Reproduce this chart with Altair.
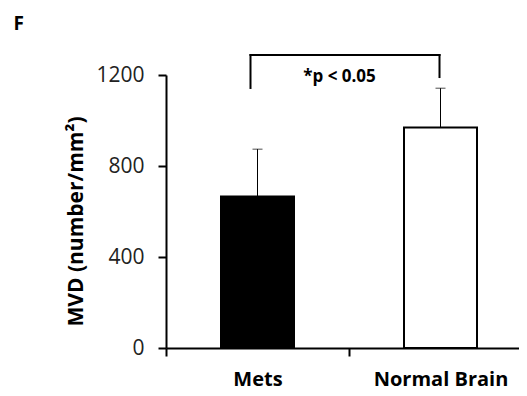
import altair as alt
import pandas as pd

# ---- data ----
categories = ["Mets", "Normal Brain"]
means = [666, 969]
errors = [208, 173]
fills = ["black", "white"]

y_ticks = [0, 400, 800, 1200]
sig_label = "*p < 0.05"
bracket_top = 1288
bracket_left_bottom = 1143
bracket_right_bottom = 1191
sig_label_y = 1170
panel_label = "F"
panel_label_y = 1397

FONT = "Open Sans"

df = pd.DataFrame({"group": categories, "mvd": means, "err": errors, "fill": fills})
df["upper"] = df["mvd"] + df["err"]

bracket_h = pd.DataFrame({"a": [categories[0]], "b": [categories[1]], "y": [bracket_top]})
bracket_l = pd.DataFrame({"a": [categories[0]], "y": [bracket_top], "y2": [bracket_left_bottom]})
bracket_r = pd.DataFrame({"a": [categories[1]], "y": [bracket_top], "y2": [bracket_right_bottom]})
sig_df = pd.DataFrame({"a": [categories[0]], "y": [sig_label_y], "t": [sig_label]})
panel_df = pd.DataFrame({"a": [categories[0]], "y": [panel_label_y], "t": [panel_label]})

xscale = alt.Scale(domain=categories, range=[0, 366], paddingInner=0, paddingOuter=0)
yscale = alt.Scale(domain=[0, 1200])

x_axis = alt.Axis(
    title=None, labelAngle=0, labelFont=FONT, labelFontSize=20, labelFontWeight="bold",
    labelColor="black", tickBand="extent", tickSize=8, tickWidth=2, tickColor="black",
    domainColor="black", domainWidth=2, labelPadding=13,
)
y_axis = alt.Axis(
    title="MVD (number/mm²)", values=y_ticks, grid=False, format="d",
    labelFont=FONT, labelFontSize=21, labelColor="#222222", labelPadding=14,
    tickSize=8, tickWidth=2, tickColor="black", domainColor="black", domainWidth=2,
    titleFont=FONT, titleFontSize=21, titleFontWeight="bold", titleColor="black",
    titlePadding=9, titleY=146,
)

X = alt.X("group:N", scale=xscale, axis=x_axis, sort=categories)
XA = alt.X("a:N", scale=xscale, sort=categories)

bars = alt.Chart(df).mark_bar(size=73, stroke="black", strokeWidth=2).encode(
    x=X,
    y=alt.Y("mvd:Q", scale=yscale, axis=y_axis),
    fill=alt.Fill("fill:N", scale=None),
)
err_rule = alt.Chart(df).mark_rule(color="black", strokeWidth=1).encode(
    x=X, y="mvd:Q", y2="upper:Q"
)
err_cap = alt.Chart(df).mark_tick(color="black", size=10, thickness=1).encode(
    x=X, y="upper:Q"
)

bh = alt.Chart(bracket_h).mark_rule(color="black", strokeWidth=2, strokeCap="square",
                                    xOffset=-7, x2Offset=-1).encode(
    x=XA, x2="b:N", y="y:Q"
)
bl = alt.Chart(bracket_l).mark_rule(color="black", strokeWidth=2, strokeCap="square",
                                    xOffset=-7).encode(
    x=XA, y="y:Q", y2="y2:Q"
)
br = alt.Chart(bracket_r).mark_rule(color="black", strokeWidth=2, strokeCap="square",
                                    xOffset=-1).encode(
    x=XA, y="y:Q", y2="y2:Q"
)
sig = alt.Chart(sig_df).mark_text(font=FONT, fontSize=17, fontWeight="bold", color="black",
                                  dx=82, align="center", baseline="alphabetic").encode(
    x=XA, y="y:Q", text="t:N"
)
panel = alt.Chart(panel_df).mark_text(font=FONT, fontSize=19, fontWeight="bold", color="black",
                                      dx=-244, align="left", baseline="alphabetic").encode(
    x=XA, y="y:Q", text="t:N"
)

chart = alt.layer(err_rule, err_cap, bars, bh, bl, br, sig, panel).properties(
    width=353,
    height=273,
    autosize=alt.AutoSizeParams(type="none"),
    padding={"left": 158, "top": 67, "right": 0, "bottom": 50},
).configure_view(stroke=None)

chart.save("out.html", embed_options={"renderer": "svg", "actions": False})
